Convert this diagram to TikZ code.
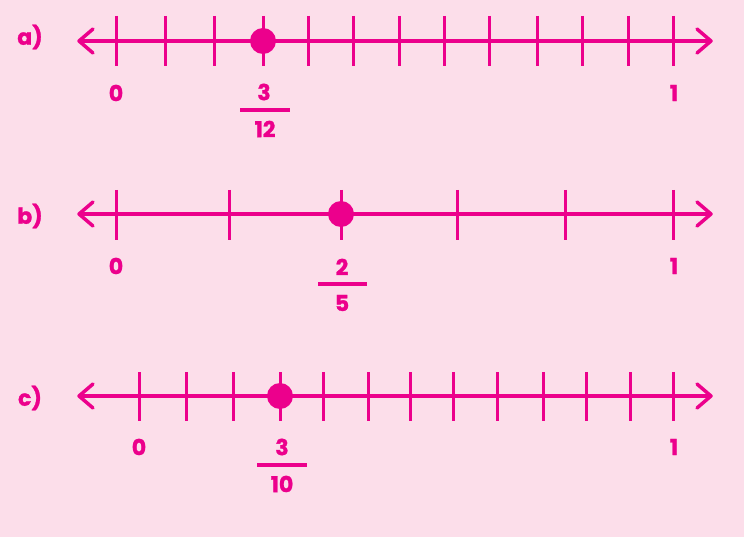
\documentclass[tikz,border=0pt]{standalone}
\usepackage{fontspec}
\setmainfont{Poppins}[BoldFont={* Bold},BoldFeatures={FakeBold=1.2}]
\definecolor{bg}{RGB}{252,222,234}
\definecolor{mag}{RGB}{236,0,140}
\begin{document}
\begin{tikzpicture}[x=1pt,y=-1pt,
  axis/.style={mag,line width=3.5pt},
  chev/.style={mag,line width=3.5pt,line cap=round,line join=round},
  tick/.style={mag,line width=3pt},
  dotmark/.style={circle,fill=mag,minimum size=26pt,inner sep=0pt},
  lbl/.style={text=mag,font=\fontsize{22}{24}\selectfont\bfseries,inner sep=0pt},
  fbar/.style={mag,line width=3.5pt}]
\fill[bg] (0,0) rectangle (744,537);
\useasboundingbox (0,0) rectangle (744,537);
% ---- a)
\node[lbl] (la) at (30,37) {a)};
\draw[axis] (80,41) -- (710,41);
\draw[chev] (93,29) -- (79,41) -- (93,53);
\draw[chev] (697,29) -- (711,41) -- (697,53);
\foreach \x in {116,165,214,263,308,353,399,444,489,537,582,628,673}
  \draw[tick] (\x,16) -- (\x,66);
\node[dotmark] (da) at (263,41) {};
\node[lbl] (a0) at (116,93) {0};
\node[lbl] (a1) at (674,93) {1};
\node[lbl] (an) at (264,92) {3};
\draw[fbar] (240,110) -- (290,110);
\node[lbl] (ad) at (265,129) {12};
% ---- b)
\node[lbl] (lb) at (30,216) {b)};
\draw[axis] (80,214) -- (710,214);
\draw[chev] (93,202) -- (79,214) -- (93,226);
\draw[chev] (697,202) -- (711,214) -- (697,226);
\foreach \x in {116,229,341,457,565,673}
  \draw[tick] (\x,190) -- (\x,240);
\node[dotmark] (db) at (341,214) {};
\node[lbl] (b0) at (116,266) {0};
\node[lbl] (b1) at (674,266) {1};
\node[lbl] (bn) at (342,267) {2};
\draw[fbar] (318,284) -- (367,284);
\node[lbl] (bd) at (342,303) {5};
% ---- c)
\node[lbl] (lc) at (30,398) {c)};
\draw[axis] (80,396) -- (710,396);
\draw[chev] (93,384) -- (79,396) -- (93,408);
\draw[chev] (697,384) -- (711,396) -- (697,408);
\foreach \x in {139,186,233,280,323,368,410,453,497,543,586,630,673}
  \draw[tick] (\x,372) -- (\x,421);
\node[dotmark] (dc) at (280,396) {};
\node[lbl] (c0) at (139,447) {0};
\node[lbl] (c1) at (674,447) {1};
\node[lbl] (cn) at (282,447) {3};
\draw[fbar] (257,465) -- (307,465);
\node[lbl] (cd) at (282,484) {10};
\end{tikzpicture}
\end{document}
